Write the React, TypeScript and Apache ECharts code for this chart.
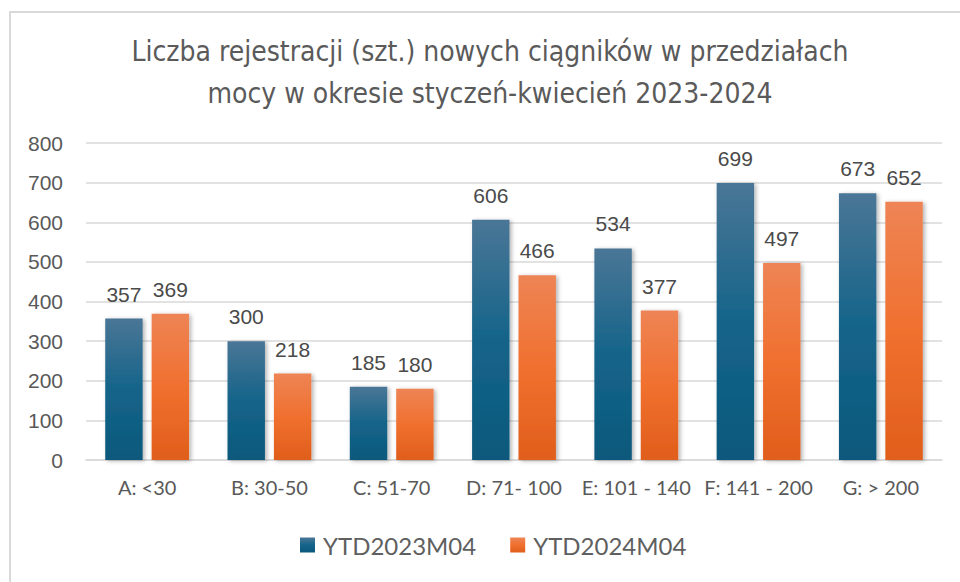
import React, { useEffect, useRef } from "react";
import * as echarts from "echarts";

const categories = ["A: <30", "B: 30-50", "C: 51-70", "D: 71- 100", "E: 101 - 140", "F: 141 - 200", "G: > 200"];
const series2023 = [357, 300, 185, 606, 534, 699, 673];
const series2024 = [369, 218, 180, 466, 377, 497, 652];
const seriesNames = ["YTD2023M04", "YTD2024M04"];
const titleLines = [
  "Liczba rejestracji (szt.) nowych ciągników w przedziałach",
  "mocy w okresie styczeń-kwiecień 2023-2024",
];

const blueGrad = new echarts.graphic.LinearGradient(0, 0, 0, 1, [
  { offset: 0, color: "#4a7696" },
  { offset: 0.5, color: "#15648a" },
  { offset: 1, color: "#0b597c" },
]);
const orangeGrad = new echarts.graphic.LinearGradient(0, 0, 0, 1, [
  { offset: 0, color: "#ee8455" },
  { offset: 0.5, color: "#f0702f" },
  { offset: 1, color: "#e05e1b" },
]);

export default function App() {
  const ref = useRef<HTMLDivElement>(null);
  useEffect(() => {
    if (!ref.current) return;
    const chart = echarts.init(ref.current, null, { renderer: "svg" });
    const labelCfg = {
      show: true,
      position: "top" as const,
      distance: 14,
      color: "#4a4a4a",
      fontSize: 21,
      fontWeight: "normal" as const,
      fontFamily: "'Liberation Sans', Arial, sans-serif",
    };
    const shadow = {
      shadowBlur: 4,
      shadowColor: "rgba(0,0,0,0.3)",
      shadowOffsetX: 2,
      shadowOffsetY: 1,
    };
    chart.setOption({
      animation: false,
      backgroundColor: "#ffffff",
      graphic: [
        {
          type: "rect",
          shape: { x: 10, y: 12, width: 1000, height: 700 },
          style: { fill: "none", stroke: "#d9d9d9", lineWidth: 2 },
          silent: true,
        },
        {
          type: "text",
          x: 490,
          y: 51,
          style: {
            text: titleLines[0],
            fill: "#5a5a5a",
            fontSize: 28,
            fontFamily: "'Liberation Sans Narrow', 'DejaVu Sans Condensed', sans-serif",
            textAlign: "center",
            textVerticalAlign: "middle",
          },
        },
        {
          type: "text",
          x: 490,
          y: 93,
          style: {
            text: titleLines[1],
            fill: "#5a5a5a",
            fontSize: 28,
            fontFamily: "'Liberation Sans Narrow', 'DejaVu Sans Condensed', sans-serif",
            textAlign: "center",
            textVerticalAlign: "middle",
          },
        },
      ],
      legend: {
        bottom: 20,
        left: 295,
        itemWidth: 15,
        itemHeight: 15,
        itemGap: 34,
        icon: "rect",
        textStyle: {
          color: "#5f5f5f",
          fontSize: 24,
          fontFamily: "Lato, sans-serif",
          padding: [0, 0, 0, 3],
        },
        data: seriesNames,
      },
      grid: { left: 86, right: 18, top: 143, bottom: 122 },
      xAxis: {
        type: "category",
        data: categories,
        axisLine: { lineStyle: { color: "#d9d9d9", width: 1.5 } },
        axisTick: { show: false },
        axisLabel: {
          color: "#595959",
          fontSize: 20,
          fontFamily: "Lato, sans-serif",
          margin: 17,
          interval: 0,
        },
      },
      yAxis: {
        type: "value",
        min: 0,
        max: 800,
        interval: 100,
        axisLine: { show: false },
        axisTick: { show: false },
        splitLine: { lineStyle: { color: "#d9d9d9", width: 1.5 } },
        axisLabel: {
          color: "#595959",
          fontSize: 21,
          fontFamily: "'Liberation Sans', Arial, sans-serif",
          margin: 23,
        },
      },
      series: [
        {
          name: seriesNames[0],
          type: "bar",
          data: series2023,
          barWidth: "30.6%",
          barGap: "24%",
          itemStyle: { color: blueGrad, ...shadow },
          label: labelCfg,
        },
        {
          name: seriesNames[1],
          type: "bar",
          data: series2024,
          barWidth: "30.6%",
          barGap: "24%",
          itemStyle: { color: orangeGrad, ...shadow },
          label: labelCfg,
        },
      ],
    });
    return () => chart.dispose();
  }, []);
  return (
    <div
      ref={ref}
      style={{ position: "absolute", left: 0, top: 0, width: 960, height: 582 }}
    />
  );
}
